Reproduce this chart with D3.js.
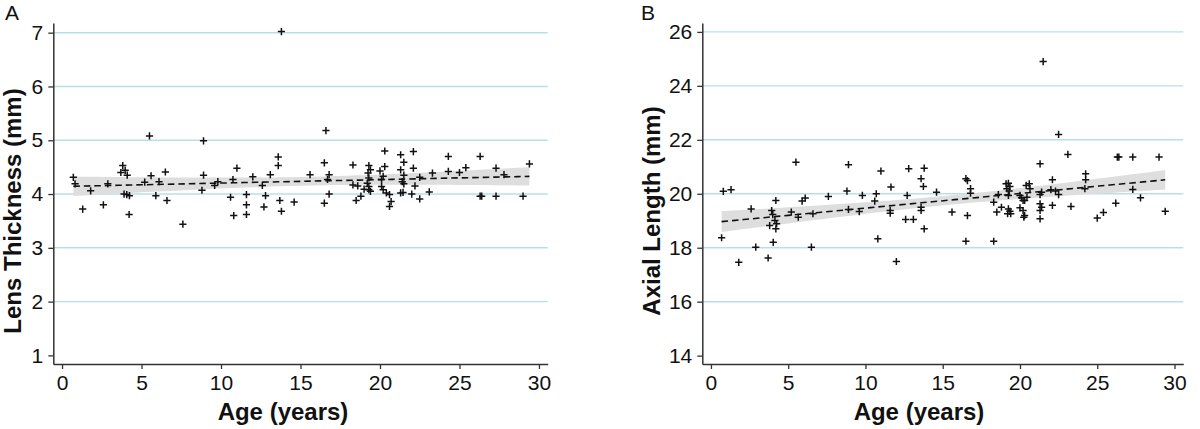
<!DOCTYPE html>
<html>
<head>
<meta charset="utf-8">
<script src="https://cdn.jsdelivr.net/npm/d3@7"></script>
<style>
  html, body { margin: 0; padding: 0; background: #fff; }
  svg { display: block; }
  text { font-family: "Liberation Sans", Arial, sans-serif; }
</style>
</head>
<body>
<svg id="chart" width="1200" height="429"></svg>
<script>
// ---------- DATA ----------
const panelLabels = ["A", "B"];
const xTitle = "Age (years)";
const yTitles = ["Lens Thickness (mm)", "Axial Length (mm)"];
const xTicks = [0, 5, 10, 15, 20, 25, 30];
const yTicksA = [1, 2, 3, 4, 5, 6, 7];
const yTicksB = [14, 16, 18, 20, 22, 24, 26];

const ageA = [0.71,0.82,1.8,1.3,2.6,2.88,3.82,3.7,3.97,4.1,3.9,4.07,4.24,4.22,5.5,5.2,5.6,5.9,6.1,6.5,
  6.6,7.6,8.9,8.9,8.8,9.6,9.8,10.6,10.75,11.0,10.8,11.6,11.6,11.6,12.0,12.6,12.8,12.7,13.1,13.6,
  13.6,13.7,13.8,13.8,14.6,15.6,16.6,16.5,16.8,16.7,16.8,16.5,18.3,18.3,18.6,18.8,18.5,19.0,19.3,19.4,
  19.25,19.3,19.2,19.3,19.4,19.3,20.0,20.3,20.3,20.2,20.1,20.1,20.2,20.4,20.6,20.7,20.6,21.3,21.5,21.3,
  21.5,21.4,21.5,21.3,21.45,22.1,22.1,22.2,22.0,22.5,22.5,23.1,23.3,24.3,24.3,25.0,25.4,26.3,26.3,26.4,
  27.3,27.3,27.8,29.0,29.4];
const lensA = [4.31,4.19,4.06,3.72,3.80,4.19,4.53,4.40,4.44,4.35,4.00,3.99,3.97,3.62,5.08,4.22,4.34,3.97,4.23,4.41,
  3.88,3.44,4.99,4.35,4.07,4.16,4.23,3.94,4.27,4.48,3.60,3.99,3.80,3.62,4.32,4.16,3.97,3.76,4.36,4.69,
  4.53,3.88,3.68,7.02,3.85,4.36,5.18,4.58,4.36,4.27,4.00,3.83,4.54,4.17,4.15,3.96,3.88,4.09,4.53,4.45,
  4.39,4.30,4.20,4.14,4.05,4.08,4.43,4.51,4.80,4.33,4.27,4.14,4.08,4.02,3.99,3.86,3.77,4.73,4.59,4.45,
  4.35,4.23,4.19,4.02,4.03,4.79,4.48,4.15,4.00,3.91,4.31,4.04,4.39,4.70,4.42,4.40,4.49,4.70,3.96,3.96,
  4.48,3.96,4.36,3.96,4.56];

const ageB = [0.8,1.3,0.69,1.8,2.6,2.9,3.7,3.93,4.0,4.14,3.8,4.25,4.2,4.03,4.2,5.5,5.2,5.65,5.9,6.1,
  6.5,6.6,7.6,8.8,8.9,8.9,9.6,9.8,10.6,10.7,10.8,11.0,11.6,11.6,11.65,12.0,12.6,13.1,12.7,12.8,
  13.6,13.6,13.8,13.6,13.75,13.8,14.6,15.6,16.5,16.6,16.8,16.8,16.6,16.5,18.3,18.3,18.5,18.8,18.6,19.1,
  19.25,19.35,19.15,19.3,19.25,19.25,19.35,19.2,19.4,20.0,20.1,20.2,20.4,20.6,20.65,20.45,20.3,20.0,20.2,20.3,
  20.25,21.3,21.4,21.3,21.4,21.3,21.3,21.3,21.5,22.1,22.0,22.3,22.5,22.1,22.5,23.1,23.3,24.25,24.25,24.2,
  25.0,25.4,26.2,26.3,26.4,27.3,27.3,27.8,29.0,29.4];
const axialB = [20.09,20.15,18.37,17.46,19.44,18.02,17.62,19.38,19.23,19.01,18.82,18.89,18.70,18.20,19.75,21.17,19.32,19.13,19.73,19.84,
  18.02,19.26,19.90,20.10,21.08,19.42,19.34,19.94,19.73,20.00,18.33,20.84,19.38,19.28,20.25,17.49,19.05,19.05,19.94,20.93,
  19.50,19.38,20.95,20.56,20.27,18.70,20.06,19.32,20.56,20.49,20.19,20.02,19.19,18.24,18.24,19.69,19.32,19.50,19.97,20.37,
  20.39,20.27,20.19,20.10,19.94,19.44,19.35,19.26,19.26,19.94,19.85,19.75,20.31,20.37,20.19,19.87,19.75,19.48,19.38,19.19,
  19.13,19.97,20.06,19.63,19.50,19.38,19.07,21.11,24.90,20.52,20.15,20.10,19.97,19.57,22.20,21.46,19.53,20.74,20.52,20.19,
  19.10,19.31,19.65,21.36,21.36,21.36,20.16,19.85,21.36,19.35];

// ---------- LAYOUT ----------
const svg = d3.select("#chart");
const panels = [
  { label: panelLabels[0], labelX: 5, yTitle: yTitles[0], x: ageA, y: lensA, yTicks: yTicksA,
    xDom: [-0.55, 30.55], xRange: [53.3, 547.7], yDom: [0.84, 7.18], yTitleX: 21, xTitleX: 283 },
  { label: panelLabels[1], labelX: 641, yTitle: yTitles[1], x: ageB, y: axialB, yTicks: yTicksB,
    xDom: [-0.56, 30.57], xRange: [702.3, 1183.3], yDom: [13.69, 26.33], yTitleX: 660, xTitleX: 919 }
];
const yRange = [364, 23];
const fmt = d3.format("d");

function fit(xs, ys) {
  const n = xs.length;
  const mx = d3.mean(xs), my = d3.mean(ys);
  let sxx = 0, sxy = 0;
  for (let i = 0; i < n; i++) { sxx += (xs[i]-mx)**2; sxy += (xs[i]-mx)*(ys[i]-my); }
  const b = sxy / sxx, a = my - b * mx;
  let sse = 0;
  for (let i = 0; i < n; i++) sse += (ys[i] - a - b*xs[i])**2;
  const s = Math.sqrt(sse / (n - 2));
  const t = 1.983;
  const [x0, x1] = d3.extent(xs);
  return d3.range(0, 41).map(k => {
    const x = x0 + (x1 - x0) * k / 40;
    const yh = a + b * x;
    const se = s * Math.sqrt(1/n + (x - mx)**2 / sxx);
    return { x, y: yh, lo: yh - t*se, hi: yh + t*se };
  });
}

panels.forEach(p => {
  const g = svg.append("g");
  const xs = d3.scaleLinear().domain(p.xDom).range(p.xRange);
  const ys = d3.scaleLinear().domain(p.yDom).range(yRange);

  // gridlines
  g.append("g").selectAll("line").data(p.yTicks.slice(1)).join("line")
    .attr("x1", p.xRange[0]).attr("x2", p.xRange[1])
    .attr("y1", d => ys(d)).attr("y2", d => ys(d))
    .attr("stroke", "#b7dfea").attr("stroke-width", 1.4);

  // fit band + line
  const f = fit(p.x, p.y);
  g.append("path").datum(f)
    .attr("d", d3.area().x(d => xs(d.x)).y0(d => ys(d.lo)).y1(d => ys(d.hi)))
    .attr("fill", "#dedede");
  g.append("path").datum(f)
    .attr("d", d3.line().x(d => xs(d.x)).y(d => ys(d.y)))
    .attr("fill", "none").attr("stroke", "#111").attr("stroke-width", 1.6)
    .attr("stroke-dasharray", "6.5,4");

  // points as plus markers
  const pts = p.x.map((v, i) => [v, p.y[i]]);
  g.append("g").selectAll("path").data(pts).join("path")
    .attr("d", d => {
      const cx = xs(d[0]), cy = ys(d[1]), r = 3.6;
      return `M${cx-r},${cy}H${cx+r}M${cx},${cy-r}V${cy+r}`;
    })
    .attr("stroke", "#111").attr("stroke-width", 1.5).attr("fill", "none");

  // axes
  const yAxis = g.append("g").attr("transform", `translate(${p.xRange[0]},0)`)
    .call(d3.axisLeft(ys).tickValues(p.yTicks).tickFormat(fmt).tickSize(5).tickSizeOuter(0).tickPadding(5));
  const xAxis = g.append("g").attr("transform", `translate(0,${yRange[0]})`)
    .call(d3.axisBottom(xs).tickValues(xTicks).tickFormat(fmt).tickSize(5).tickSizeOuter(0).tickPadding(6));
  [yAxis, xAxis].forEach(ax => {
    ax.select(".domain").attr("stroke", "#333").attr("stroke-width", 1.5);
    ax.selectAll(".tick line").attr("stroke", "#333").attr("stroke-width", 1.3);
    ax.selectAll(".tick text").attr("fill", "#111").style("font-size", "21px")
      .style("font-family", '"Liberation Sans", Arial, sans-serif');
  });

  // titles
  g.append("text").attr("x", p.xTitleX).attr("y", 420).attr("text-anchor", "middle")
    .style("font-size", "24px").style("font-weight", "bold").attr("fill", "#111").text(xTitle);
  g.append("text").attr("transform", `translate(${p.yTitleX},211) rotate(-90)`)
    .attr("text-anchor", "middle")
    .style("font-size", "24px").style("font-weight", "bold").attr("fill", "#111").text(p.yTitle);
  g.append("text").attr("x", p.labelX).attr("y", 20)
    .style("font-size", "21px").attr("fill", "#111").text(p.label);
});
</script>
</body>
</html>
